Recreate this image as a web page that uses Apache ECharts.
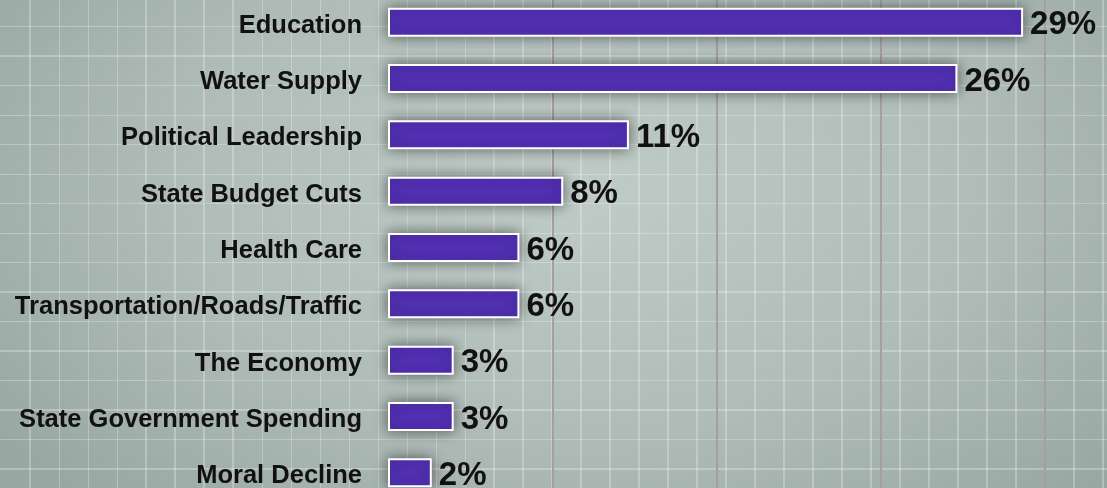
<!DOCTYPE html>
<html>
<head>
<meta charset="utf-8">
<script src="https://cdn.jsdelivr.net/npm/echarts@6/dist/echarts.min.js"></script>
<style>
    html, body { margin: 0; padding: 0; overflow: hidden; }
    #wrap {
        position: relative;
        width: 1107px;
        height: 488px;
        overflow: hidden;
        background:
            repeating-linear-gradient(90deg, transparent 0px, transparent 27.5px, rgba(255,255,255,0.26) 27.5px, rgba(255,255,255,0.26) 29px),
            repeating-linear-gradient(180deg, transparent 0px, transparent 28px, rgba(255,255,255,0.26) 28px, rgba(255,255,255,0.26) 29.5px),
            radial-gradient(ellipse 720px 430px at 580px 190px, #bfcbc6 0%, #afbcb7 55%, #99a7a3 100%);
        background-position: 2px 0, 0 -2px, 0 0;
    }
    #chart {
        position: absolute;
        left: 0;
        top: -6px;
        width: 1107px;
        height: 507px;
    }
</style>
</head>
<body>
<div id="wrap"><div id="chart"></div></div>
<script>
    let categories = ['Education', 'Water Supply', 'Political Leadership', 'State Budget Cuts', 'Health Care',
        'Transportation/Roads/Traffic', 'The Economy', 'State Government Spending', 'Moral Decline']
    let values = [29, 26, 11, 8, 6, 6, 3, 3, 2]

    // 基于准备好的dom，初始化echarts实例
    let myChart = echarts.init(document.querySelector('#chart'))
    myChart.setOption({
        backgroundColor: 'transparent',
        animation: false,
        grid: {
            left: 388,
            right: 62,
            top: 0,
            bottom: 0,
            containLabel: false
        },
        xAxis: {
            type: 'value',
            min: 0,
            max: 30,
            interval: 7.5,
            axisLabel: { show: false },
            axisLine: { show: false },
            axisTick: { show: false },
            splitLine: {
                show: true,
                showMinLine: false,
                lineStyle: { color: '#a59fa3', width: 2 }
            }
        },
        yAxis: {
            type: 'category',
            data: categories,
            inverse: true,
            axisLine: { show: false },
            axisTick: { show: false },
            axisLabel: {
                margin: 26,
                verticalAlign: 'top',
                lineHeight: 7,
                color: '#111',
                fontFamily: 'Liberation Sans',
                fontWeight: 'bold',
                fontSize: 25.5
            }
        },
        series: [
            {
                type: 'bar',
                data: values,
                barWidth: 29,
                itemStyle: {
                    color: '#5230b4',
                    borderColor: '#ffffff',
                    borderWidth: 2,
                    shadowColor: 'rgba(0, 0, 0, 0.5)',
                    shadowBlur: 14
                },
                label: {
                    show: true,
                    position: 'right',
                    distance: 7,
                    offset: [0, 3],
                    formatter: '{c}%',
                    color: '#111',
                    fontFamily: 'Liberation Sans',
                    fontWeight: 'bold',
                    fontSize: 33
                }
            }
        ]
    });
</script>
</body>
</html>
